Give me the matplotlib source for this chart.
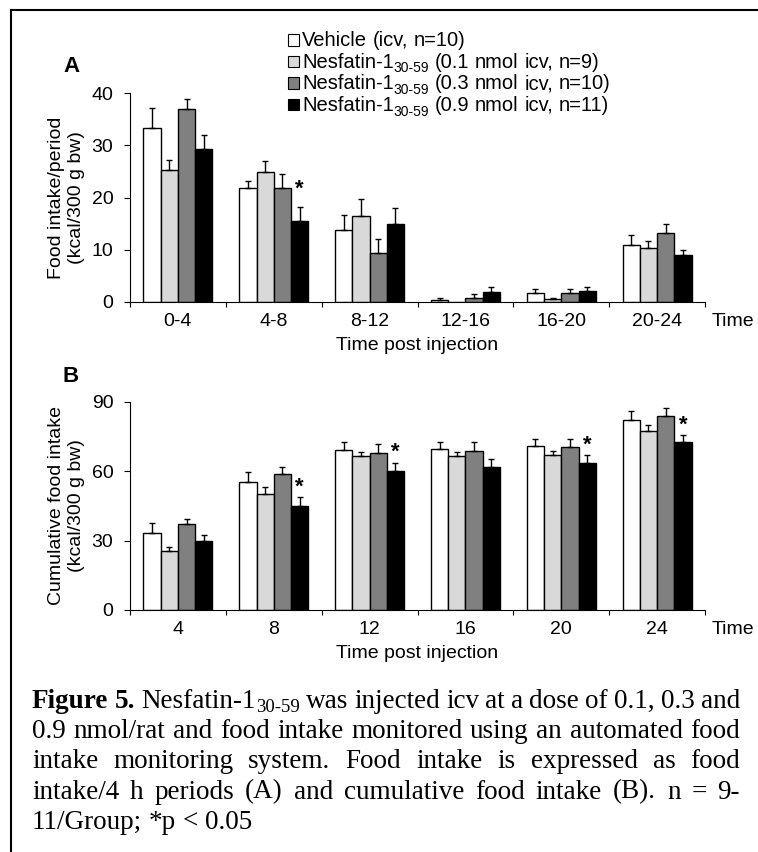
import numpy as np
import matplotlib
matplotlib.use('Agg')
import matplotlib.pyplot as plt
from matplotlib.patches import Rectangle
from matplotlib.lines import Line2D

plt.rcParams['font.family'] = ['Liberation Sans', 'DejaVu Sans']

W, H = 758, 852

periods = ['0-4', '4-8', '8-12', '12-16', '16-20', '20-24']
hours = ['4', '8', '12', '16', '20', '24']

# A: intake per 4 h period (kcal/300 g bw), mean and SEM
veh_a = [33.3, 21.9, 13.8, 0.4, 1.7, 10.9]
veh_a_err = [3.9, 1.3, 2.9, 0.4, 0.7, 1.9]
n01_a = [25.2, 24.9, 16.4, 0.0, 0.45, 10.3]
n01_a_err = [2.0, 2.1, 3.3, 0.0, 0.25, 1.4]
n03_a = [36.9, 21.8, 9.4, 0.8, 1.65, 13.2]
n03_a_err = [2.1, 2.8, 2.6, 0.7, 0.75, 1.8]
n09_a = [29.4, 15.5, 15.0, 1.85, 2.0, 9.0]
n09_a_err = [2.6, 2.7, 3.0, 1.0, 0.75, 0.9]

# B: cumulative intake
veh_b = [33.4, 55.2, 69.0, 69.4, 71.0, 82.0]
veh_b_err = [4.0, 4.4, 3.6, 3.3, 3.0, 4.1]
n01_b = [25.5, 50.1, 66.5, 66.5, 67.0, 77.3]
n01_b_err = [1.9, 2.9, 1.8, 1.8, 1.8, 2.5]
n03_b = [37.0, 58.8, 68.0, 68.8, 70.6, 83.8]
n03_b_err = [2.2, 2.8, 3.7, 3.9, 3.1, 3.3]
n09_b = [29.7, 45.1, 59.9, 61.8, 63.6, 72.4]
n09_b_err = [2.6, 3.6, 3.7, 3.6, 3.2, 3.1]

# p < 0.05 marks on the 0.9 nmol group
stars_a = [1]
stars_b = [1, 2, 4, 5]

legend_labels = ['Vehicle (icv, n=10)',
                 'Nesfatin-1_{30-59} (0.1 nmol icv, n=9)',
                 'Nesfatin-1_{30-59} (0.3 nmol icv, n=10)',
                 'Nesfatin-1_{30-59} (0.9 nmol icv, n=11)']
colors = ['white', '#d9d9d9', '#808080', 'black']

caption = ['Figure 5. Nesfatin-1_{30-59} was injected icv at a dose of 0.1, 0.3 and',
           '0.9 nmol/rat and food intake monitored using an automated food',
           'intake monitoring system. Food intake is expressed as food',
           'intake/4 h periods (A) and cumulative food intake (B). n = 9-',
           '11/Group; *p < 0.05']

fig = plt.figure(figsize=(W / 100, H / 100), dpi=100)
renderer = fig.canvas.get_renderer()


def fx(x):
    return x / W


def fy(y):
    return 1 - y / H


def bars(ax, series, errs, labels, ylim, yticks, ylabel, stars, star_off):
    x = np.arange(len(labels))
    bw = 0.18
    for i in range(4):
        pos = x + (i - 1.5) * bw
        ax.bar(pos, series[i], bw, color=colors[i], edgecolor='black', linewidth=1.0, zorder=2)
        e = np.array(errs[i])
        ok = e > 0
        ax.errorbar(pos[ok], np.array(series[i])[ok], yerr=[np.zeros(ok.sum()), e[ok]],
                    fmt='none', ecolor='black', elinewidth=1.0, capsize=2.3, capthick=1.0, zorder=3)
    pos = x + 1.5 * bw
    for k in stars:
        ax.annotate('*', xy=(pos[k], series[3][k] + errs[3][k]), xytext=(0, star_off),
                    textcoords='offset points', ha='center', va='center', fontsize=16,
                    fontweight='bold')
    ax.set_xlim(-0.5, len(labels) - 0.5)
    ax.set_ylim(*ylim)
    ax.set_yticks(yticks)
    ax.set_xticks(np.arange(-0.5, len(labels), 1))
    ax.set_xticks(x, labels=labels, minor=True)
    ax.tick_params(axis='x', which='major', direction='out', length=3.6, width=0.8, labelbottom=False)
    ax.tick_params(axis='x', which='minor', length=0, pad=8, labelsize=14)
    ax.tick_params(axis='y', direction='out', length=4, width=0.8, pad=8, labelsize=14)
    for s in ['top', 'right']:
        ax.spines[s].set_visible(False)
    for s in ['left', 'bottom']:
        ax.spines[s].set_linewidth(0.8)
    ax.set_ylabel(ylabel, fontsize=14, labelpad=5, linespacing=1.2)
    ax.set_xlabel('Time post injection', fontsize=14, labelpad=5)
    ax.annotate('Time', xy=(1, 0), xycoords='axes fraction', xytext=(5, -8),
                textcoords='offset points', ha='left', va='top', fontsize=14)


axa = fig.add_axes([fx(130), fy(301.7), 575 / W, 208.4 / H])
bars(axa, [veh_a, n01_a, n03_a, n09_a], [veh_a_err, n01_a_err, n03_a_err, n09_a_err],
     periods, (0, 40), [0, 10, 20, 30, 40], 'Food intake/period\n(kcal/300 g bw)', stars_a, 13)

axb = fig.add_axes([fx(130), fy(610), 575 / W, 208.3 / H])
bars(axb, [veh_b, n01_b, n03_b, n09_b], [veh_b_err, n01_b_err, n03_b_err, n09_b_err],
     hours, (0, 90), [0, 30, 60, 90], 'Cumulative food intake\n(kcal/300 g bw)', stars_b, 7.5)

fig.text(fx(63), fy(72), 'A', fontsize=16, fontweight='bold', ha='left', va='baseline')
fig.text(fx(63), fy(382), 'B', fontsize=16, fontweight='bold', ha='left', va='baseline')


def width(s, kw):
    t = fig.text(0, 0, s, **kw)
    w = t.get_window_extent(renderer=renderer).width
    t.remove()
    return w


def parse(word, bold):
    k = 'b' if bold else 'n'
    if '_{' in word:
        base, sub = word.split('_{')
        return [(base, k), (sub.rstrip('}'), 's')]
    return [(word, k)]


def draw_line(words, x0, x1, y, styles, justify):
    kw = {k: {a: b for a, b in v.items() if a != 'drop'} for k, v in styles.items()}
    ws = [sum(width(t, kw[k]) for t, k in w) for w in words]
    space = width('x x', kw['n']) - width('xx', kw['n'])
    gap = (x1 - x0 - sum(ws)) / (len(words) - 1) if justify and len(words) > 1 else space
    x = x0
    for w, ww in zip(words, ws):
        xx = x
        for t, k in w:
            fig.text(fx(xx), fy(y + styles[k].get('drop', 0)), t, ha='left', va='baseline', **kw[k])
            xx += width(t, kw[k])
        x += ww + gap


leg_styles = {'n': dict(fontsize=14.5), 'b': dict(fontsize=14.5),
              's': dict(fontsize=10, drop=5)}
for i, lab in enumerate(legend_labels):
    yb = 46 + 21.5 * i
    fig.patches.append(Rectangle((fx(288), fy(yb - 0.5)), 11 / W, 11 / H, transform=fig.transFigure,
                                 facecolor=colors[i], edgecolor='black', linewidth=0.8))
    draw_line([parse(w, False) for w in lab.split(' ')], 302, 0, yb, leg_styles, False)

serif = ['Liberation Serif', 'DejaVu Serif']
cap_styles = {'n': dict(fontsize=19.5, family=serif),
              'b': dict(fontsize=19.5, family=serif, fontweight='bold'),
              's': dict(fontsize=13.5, family=serif, drop=4)}
for j, line in enumerate(caption):
    words = [parse(w, j == 0 and i < 2) for i, w in enumerate(line.split(' '))]
    draw_line(words, 32, 740, 708 + 30.2 * j, cap_styles, j < len(caption) - 1)

fig.add_artist(Line2D([fx(11), fx(11)], [fy(9.5), 0], transform=fig.transFigure, color='black', linewidth=1.5))
fig.add_artist(Line2D([fx(11), 1], [fy(9.5), fy(9.5)], transform=fig.transFigure, color='black', linewidth=1.5))

fig.savefig('out.png', dpi=100)
